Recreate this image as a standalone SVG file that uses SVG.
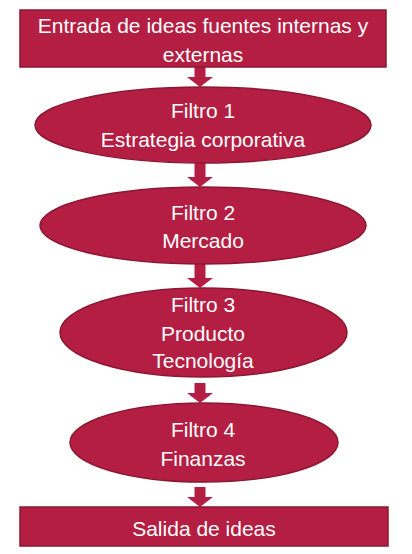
<svg xmlns="http://www.w3.org/2000/svg" width="412" height="554" viewBox="0 0 412 554">
<style>
.n{fill:#B41E42;stroke:#8A1832;stroke-width:1.5}
.t{fill:#FFFFFF;font-family:"Liberation Sans",Arial,sans-serif;font-size:21px;text-anchor:middle}
.a{fill:#B41E42}
</style>
<rect width="412" height="554" fill="#FFFFFF"/>
<g id="connectors">
<path class="a" d="M194.5,67 H205.5 V77 H213 L200,87 L187,77 H194.5 Z"/>
<path class="a" d="M194.5,163 H205.5 V177 H213 L200,187 L187,177 H194.5 Z"/>
<path class="a" d="M194.5,264 H205.5 V278 H213 L200,288 L187,278 H194.5 Z"/>
<path class="a" d="M194.5,383 H205.5 V393 H213 L200,403 L187,393 H194.5 Z"/>
<path class="a" d="M194.5,487 H205.5 V497 H213 L200,507 L187,497 H194.5 Z"/>
</g>
<g id="entrada">
<rect class="n" x="20" y="10" width="366" height="57"/>
<text class="t" x="203" y="33">Entrada de ideas fuentes internas y</text>
<text class="t" x="203" y="62">externas</text>
</g>
<g id="filtro1">
<ellipse class="n" cx="203" cy="125" rx="168" ry="38"/>
<text class="t" x="203" y="118">Filtro 1</text>
<text class="t" x="203" y="147">Estrategia corporativa</text>
</g>
<g id="filtro2">
<ellipse class="n" cx="203" cy="225.5" rx="163" ry="38.5"/>
<text class="t" x="203" y="220">Filtro 2</text>
<text class="t" x="203" y="248">Mercado</text>
</g>
<g id="filtro3">
<ellipse class="n" cx="203.5" cy="332.5" rx="143.5" ry="44.5"/>
<text class="t" x="203" y="312">Filtro 3</text>
<text class="t" x="203" y="341">Producto</text>
<text class="t" x="203" y="368">Tecnología</text>
</g>
<g id="filtro4">
<ellipse class="n" cx="204" cy="442.5" rx="134" ry="39.5"/>
<text class="t" x="203" y="437">Filtro 4</text>
<text class="t" x="203" y="466">Finanzas</text>
</g>
<g id="salida">
<rect class="n" x="20" y="507" width="368" height="39"/>
<text class="t" x="204" y="536">Salida de ideas</text>
</g>
</svg>
